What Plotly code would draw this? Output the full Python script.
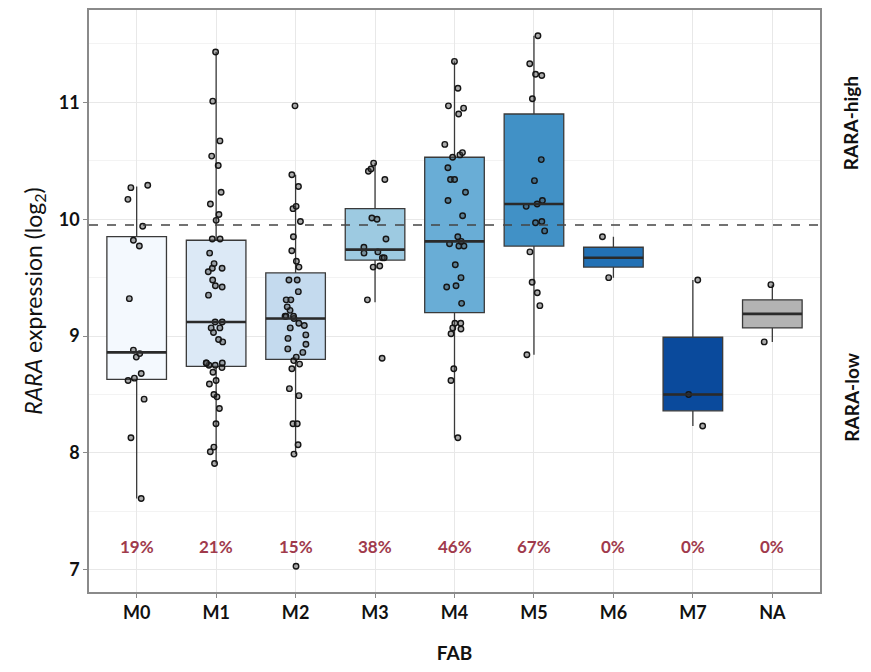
import plotly.graph_objects as go

# ---------------- data ----------------
groups = ["M0", "M1", "M2", "M3", "M4", "M5", "M6", "M7", "NA"]
pct_labels = ["19%", "21%", "15%", "38%", "46%", "67%", "0%", "0%", "0%"]

box_q1 = [8.63, 8.74, 8.80, 9.65, 9.20, 9.77, 9.59, 8.36, 9.07]
box_median = [8.86, 9.12, 9.15, 9.74, 9.81, 10.13, 9.67, 8.50, 9.19]
box_q3 = [9.85, 9.82, 9.54, 10.09, 10.53, 10.90, 9.76, 8.99, 9.31]
box_low = [7.61, 7.91, 7.99, 9.29, 8.13, 8.84, 9.50, 8.23, 8.95]
box_high = [10.28, 11.43, 10.38, 10.48, 11.35, 11.57, 9.85, 9.48, 9.44]

pts_M0 = [10.29, 10.27, 10.17, 9.94, 9.82, 9.77, 9.32, 8.88, 8.85, 8.82,
          8.68, 8.64, 8.62, 8.46, 8.13, 7.61]
pts_M1 = [11.43, 11.01, 10.67, 10.54, 10.46, 10.23, 10.13, 10.04, 9.99,
          9.83, 9.83, 9.71, 9.62, 9.58, 9.58, 9.55, 9.48, 9.43, 9.42, 9.35,
          9.12, 9.12, 9.07, 9.07, 9.03, 8.97, 8.95,
          8.77, 8.77, 8.77, 8.75, 8.75, 8.73, 8.69,
          8.62, 8.59, 8.50, 8.48, 8.38, 8.25, 8.05, 8.01, 7.91]
pts_M2 = [10.97, 10.38, 10.28, 10.11, 10.09, 9.98,
          9.85, 9.73, 9.64, 9.59, 9.48, 9.48, 9.38, 9.31, 9.31,
          9.25, 9.22, 9.17, 9.17, 9.17, 9.15, 9.11, 9.09, 9.07, 9.01,
          8.98, 8.93, 8.89, 8.86, 8.82, 8.79, 8.76, 8.72,
          8.55, 8.49, 8.25, 8.25, 8.07, 7.99, 7.03]
pts_M3 = [10.48, 10.43, 10.41, 10.34, 10.01, 10.00, 9.83, 9.76, 9.72, 9.71,
          9.67, 9.67, 9.60, 9.59, 9.31, 8.81]
pts_M4 = [11.35, 11.12, 10.97, 10.95, 10.90, 10.64, 10.57, 10.55, 10.53,
          10.44, 10.34, 10.34, 10.23, 10.16, 10.03,
          9.85, 9.81, 9.79, 9.77, 9.77, 9.61, 9.50, 9.43, 9.42,
          9.28, 9.11, 9.11, 9.07, 9.06, 9.02, 8.72, 8.62, 8.13]
pts_M5 = [11.57, 11.33, 11.24, 11.23, 11.03, 10.51, 10.33, 10.16, 10.13,
          10.11, 9.98, 9.97, 9.90, 9.72, 9.46, 9.37, 9.26, 8.84]
pts_M6 = [9.85, 9.50]
pts_M7 = [9.48, 8.50, 8.23]
pts_NA = [9.44, 8.95]

threshold = 9.95

fill_colors = ["#F4F9FE", "#DCE9F6", "#C4DAEE", "#9DCAE1", "#69ADD6",
               "#4191C6", "#2271B5", "#0A4A9C", "#B3B3B3"]

# ---------------- figure ----------------
FONT = "Lato"
fig = go.Figure()

for g, c, a, m, b, lo, hi in zip(groups, fill_colors, box_q1, box_median,
                                 box_q3, box_low, box_high):
    fig.add_trace(go.Box(
        x=[g], q1=[a], median=[m], q3=[b], lowerfence=[lo], upperfence=[hi],
        fillcolor=c, line=dict(color="#3a3a3a", width=1.3),
        whiskerwidth=0, width=0.75, boxpoints=False, showlegend=False,
        hoverinfo="skip"))

all_pts = [pts_M0, pts_M1, pts_M2, pts_M3, pts_M4, pts_M5, pts_M6, pts_M7, pts_NA]
px_x, px_y = [], []
for g, pts in zip(groups, all_pts):
    px_x += [g] * len(pts)
    px_y += pts

fig.add_trace(go.Box(
    x=px_x, y=px_y, boxpoints="all", jitter=0.42, pointpos=0, width=0.75,
    fillcolor="rgba(0,0,0,0)", line=dict(color="rgba(0,0,0,0)", width=0),
    marker=dict(size=5.5, color="rgba(70,70,70,0.45)",
                line=dict(color="#151515", width=1.4)),
    showlegend=False, hoverinfo="y"))

# thicker median lines (ggplot style)
for i, m in enumerate(box_median):
    fig.add_shape(type="line", xref="x", yref="y", x0=i - 0.375, x1=i + 0.375,
                  y0=m, y1=m, line=dict(color="#2a2a2a", width=2.6), layer="above")

# threshold dashed line
fig.add_shape(type="line", xref="paper", yref="y", x0=0, x1=1,
              y0=threshold, y1=threshold,
              line=dict(color="#444444", width=1.6, dash="dash"), layer="above")

# percentage annotations
for g, t in zip(groups, pct_labels):
    fig.add_annotation(x=g, y=7.2, text=f"<b>{t}</b>", showarrow=False,
                       font=dict(family=FONT, size=17, color="#A03A4C"))

# right side labels
fig.add_annotation(xref="paper", yref="paper", x=1.042, y=0.805,
                   xanchor="center", yanchor="middle",
                   text="<b>RARA-high</b>", textangle=-90, showarrow=False,
                   font=dict(family=FONT, size=19, color="#111"))
fig.add_annotation(xref="paper", yref="paper", x=1.042, y=0.335,
                   xanchor="center", yanchor="middle",
                   text="<b>RARA-low</b>", textangle=-90, showarrow=False,
                   font=dict(family=FONT, size=19, color="#111"))

fig.update_layout(
    width=855, height=656,
    margin=dict(l=81, r=43, t=0, b=72),
    plot_bgcolor="white", paper_bgcolor="white",
    boxmode="overlay",
    font=dict(family=FONT, color="#111"),
    xaxis=dict(
        type="category", categoryorder="array", categoryarray=groups,
        range=[-0.6, 8.6],
        showgrid=True, gridcolor="#e8e8e8", gridwidth=1,
        showline=True, mirror=True, linecolor="#8a8a8a", linewidth=1.6,
        ticks="outside", ticklen=4, tickcolor="#8a8a8a",
        tickfont=dict(family=FONT, size=18, color="#111", weight="bold"),
        title=dict(text="<b>FAB</b>", font=dict(family=FONT, size=19, color="#111"),
                   standoff=26),
        zeroline=False),
    yaxis=dict(
        range=[6.81, 11.79],
        tickvals=[7, 8, 9, 10, 11],
        showgrid=True, gridcolor="#e8e8e8", gridwidth=1,
        minor=dict(dtick=0.5, tick0=6.5, showgrid=True, gridcolor="#f3f3f3",
                   gridwidth=1),
        showline=True, mirror=True, linecolor="#8a8a8a", linewidth=1.6,
        ticks="outside", ticklen=4, tickcolor="#8a8a8a",
        tickfont=dict(family=FONT, size=18, color="#111", weight="bold"),
        title=dict(text="<i>RARA</i> expression (log<sub>2</sub>)",
                   font=dict(family=FONT, size=23, color="#111"), standoff=10),
        zeroline=False),
)

fig.write_html("out.html")
